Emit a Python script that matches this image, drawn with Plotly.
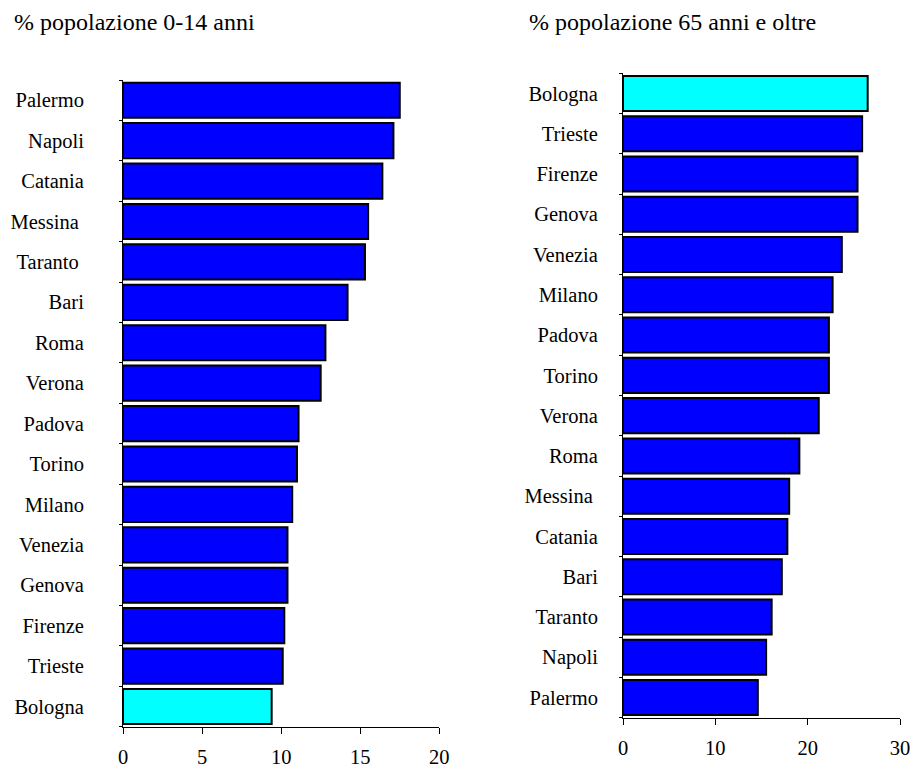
import plotly.graph_objects as go

# Share of resident population by age class in the large Italian cities
cities_young = ["Palermo", "Napoli", "Catania", "Messina", "Taranto", "Bari", "Roma", "Verona",
                "Padova", "Torino", "Milano", "Venezia", "Genova", "Firenze", "Trieste", "Bologna"]
pct_young = [17.5, 17.1, 16.4, 15.5, 15.3, 14.2, 12.8, 12.5,
             11.1, 11.0, 10.7, 10.4, 10.4, 10.2, 10.1, 9.4]

cities_old = ["Bologna", "Trieste", "Firenze", "Genova", "Venezia", "Milano", "Padova", "Torino",
              "Verona", "Roma", "Messina", "Catania", "Bari", "Taranto", "Napoli", "Palermo"]
pct_old = [26.5, 25.9, 25.4, 25.4, 23.7, 22.7, 22.3, 22.3,
           21.2, 19.1, 18.0, 17.8, 17.2, 16.1, 15.5, 14.6]

title_young = "% popolazione 0-14 anni"
title_old = "% popolazione 65 anni e oltre"
ticks_young = [0, 5, 10, 15, 20]
ticks_old = [0, 10, 20, 30]

highlight = "Bologna"
BASE, HIGH = "#0000FF", "#00FFFF"
FONT = "Liberation Serif, Times New Roman, serif"
W, H = 913, 767


def colours(cities):
    return [HIGH if c == highlight else BASE for c in cities]


def label_text(cities, pad):
    return [c + "\u00a0" * pad.get(c, 0) for c in cities]


fig = go.Figure()
fig.add_trace(go.Bar(y=cities_young, x=pct_young, orientation="h",
                     marker=dict(color=colours(cities_young), line=dict(color="black", width=2)),
                     xaxis="x", yaxis="y", showlegend=False))
fig.add_trace(go.Bar(y=cities_old, x=pct_old, orientation="h",
                     marker=dict(color=colours(cities_old), line=dict(color="black", width=2)),
                     xaxis="x2", yaxis="y2", showlegend=False))

tickfont = dict(family=FONT, size=20.5, color="black")
xcommon = dict(showline=True, linecolor="black", linewidth=1, ticks="outside", ticklen=6,
               tickcolor="black", showgrid=False, zeroline=False, tickfont=tickfont,
               fixedrange=True, automargin=False)
ycommon = dict(type="category", autorange="reversed", showline=True, linecolor="black",
               linewidth=1, ticks="outside", ticklen=3, tickcolor="black", tickson="boundaries",
               showgrid=False, zeroline=False, tickfont=tickfont, fixedrange=True,
               automargin=False)

fig.update_layout(
    template="none",
    width=W, height=H,
    margin=dict(l=0, r=0, t=0, b=0, pad=0),
    paper_bgcolor="white", plot_bgcolor="white",
    font=dict(family=FONT, color="black"),
    bargap=0.13,
    xaxis=dict(domain=[123 / W, 439.3 / W], range=[0, 20], tickvals=ticks_young,
               anchor="y", ticklabelstandoff=6, **xcommon),
    yaxis=dict(domain=[1 - 726.7 / H, 1 - 80 / H], anchor="x",
               tickvals=cities_young,
               ticktext=label_text(cities_young, {"Messina": 1, "Taranto": 1}),
               ticklabelstandoff=34, **ycommon),
    xaxis2=dict(domain=[623 / W, 900 / W], range=[0, 30], tickvals=ticks_old,
                anchor="y2", ticklabelstandoff=6, **xcommon),
    yaxis2=dict(domain=[1 - 717.7 / H, 1 - 73.3 / H], anchor="x2",
                tickvals=cities_old,
                ticktext=label_text(cities_old, {"Messina": 1}),
                ticklabelstandoff=20, **ycommon),
    annotations=[
        dict(text=title_young, xref="paper", yref="paper", x=12 / W, y=1 - 22 / H,
             xanchor="left", yanchor="middle", showarrow=False,
             font=dict(family=FONT, size=24, color="black")),
        dict(text=title_old, xref="paper", yref="paper", x=527 / W, y=1 - 22 / H,
             xanchor="left", yanchor="middle", showarrow=False,
             font=dict(family=FONT, size=24, color="black")),
    ],
)

fig.write_html("out.html", config={"displayModeBar": False},
               post_script="document.body.style.margin='0';")
